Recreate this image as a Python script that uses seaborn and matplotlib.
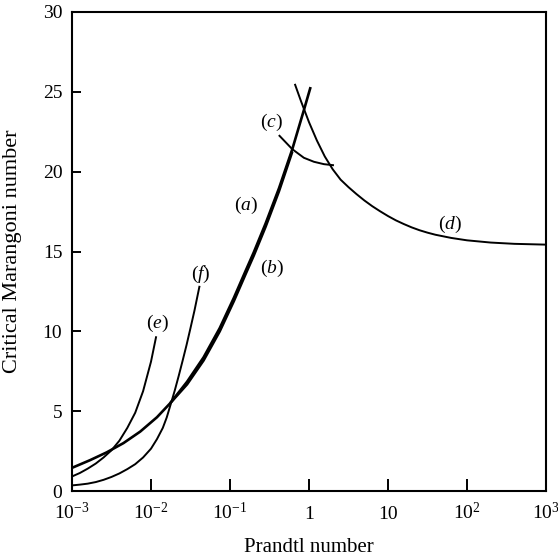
import numpy as np
import pandas as pd
import matplotlib
matplotlib.use("Agg")
import matplotlib.pyplot as plt
import seaborn as sns

# ---- data ----
a_pr = [0.001, 0.00169, 0.00275, 0.00448, 0.0073, 0.0119, 0.0175, 0.0286, 0.0463,
        0.0741, 0.112, 0.158, 0.20, 0.282, 0.417, 0.614, 0.861, 1.047]
a_ma = [1.45, 1.93, 2.42, 3.00, 3.72, 4.62, 5.50, 6.84, 8.37,
        10.2, 12.1, 13.8, 14.95, 16.75, 18.96, 21.4, 23.85, 25.3]

b_pr = [0.0175, 0.0286, 0.0463, 0.0741, 0.112, 0.158, 0.20, 0.282, 0.417, 0.614]
b_ma = [5.50, 6.68, 8.18, 10.0, 11.9, 13.6, 14.75, 16.55, 18.78, 21.25]

c_pr = [0.415, 0.614, 0.861, 1.153, 1.545, 2.07]
c_ma = [22.29, 21.41, 20.87, 20.62, 20.47, 20.40]

d_pr = [0.661, 0.794, 1.0, 1.259, 1.585, 1.995, 2.512, 3.162, 3.981, 5.012, 6.31,
        7.943, 10.0, 12.59, 15.85, 19.95, 25.12, 31.62, 39.81, 63.1, 100, 199.5,
        398, 1000]
d_ma = [25.5, 24.4, 23.1, 21.95, 20.95, 20.15, 19.5, 19.03, 18.6, 18.2, 17.84,
        17.52, 17.22, 16.95, 16.72, 16.51, 16.33, 16.18, 16.05, 15.85, 15.70, 15.56,
        15.48, 15.43]

e_pr = [0.001, 0.00126, 0.00158, 0.002, 0.00251, 0.00316, 0.00398, 0.00501,
        0.00631, 0.00794, 0.01, 0.01164]
e_ma = [0.91, 1.13, 1.40, 1.72, 2.10, 2.55, 3.15, 3.95,
        4.90, 6.25, 8.10, 9.69]

f_pr = [0.001, 0.00126, 0.00158, 0.002, 0.00251, 0.00316, 0.00398, 0.00501, 0.00631,
        0.00794, 0.01, 0.0119, 0.0141, 0.0158, 0.0178, 0.02, 0.0224, 0.0251, 0.0282,
        0.0316, 0.0355, 0.0412]
f_ma = [0.35, 0.40, 0.46, 0.56, 0.70, 0.88, 1.10, 1.37, 1.68,
        2.10, 2.65, 3.25, 3.95, 4.60, 5.45, 6.30, 7.20, 8.15, 9.15,
        10.2, 11.3, 12.85]

labels = ["(a)", "(b)", "(c)", "(d)", "(e)", "(f)"]
label_pr = [0.16, 0.342, 0.335, 60.8, 0.0119, 0.043]
label_ma = [17.9, 13.96, 23.1, 16.67, 10.49, 13.58]

xticks = [1e-3, 1e-2, 1e-1, 1, 10, 1e2, 1e3]
xticklabels = [r"$10^{-3}$", r"$10^{-2}$", r"$10^{-1}$", "1", "10", r"$10^{2}$", r"$10^{3}$"]
yticks = [0, 5, 10, 15, 20, 25, 30]

# ---- style ----
sns.set_theme(style="ticks")
plt.rcParams["font.family"] = ["Liberation Serif", "DejaVu Serif"]
plt.rcParams["mathtext.fontset"] = "custom"
plt.rcParams["mathtext.rm"] = "Liberation Serif"
plt.rcParams["mathtext.it"] = "Liberation Serif:italic"
plt.rcParams["mathtext.default"] = "rm"

W, H = 558, 557
fig = plt.figure(figsize=(W / 100, H / 100), dpi=100)
L, R, T, B = 72, 546, 12, 491
ax = fig.add_axes([L / W, 1 - B / H, (R - L) / W, (B - T) / H])

curves = [
    (a_pr, a_ma, 1.9),
    (b_pr, b_ma, 1.9),
    (c_pr, c_ma, 1.4),
    (d_pr, d_ma, 1.4),
    (e_pr, e_ma, 1.4),
    (f_pr, f_ma, 1.4),
]
for xs, ys, lw in curves:
    df = pd.DataFrame({"Pr": xs, "Ma": ys})
    sns.lineplot(data=df, x="Pr", y="Ma", ax=ax, color="black", linewidth=lw,
                 estimator=None, sort=False, solid_capstyle="butt",
                 solid_joinstyle="round")

for lab, px, py in zip(labels, label_pr, label_ma):
    letter = lab[1]
    ax.text(px, py, "(" + r"$\mathit{" + letter + "}$" + ")", fontsize=14,
            ha="center", va="center", color="black")

ax.set_xscale("log")
ax.set_xlim(1e-3, 1e3)
ax.set_ylim(0, 30)
ax.set_xticks(xticks)
ax.set_xticklabels(xticklabels)
ax.minorticks_off()
ax.set_yticks(yticks)
ax.set_yticklabels([str(v) for v in yticks])

ax.tick_params(axis="x", direction="in", length=8.5, width=1.4, pad=20,
               labelsize=14, colors="black", top=False)
ax.tick_params(axis="y", direction="in", length=6.5, width=1.4, pad=7,
               labelsize=14, colors="black", right=False)
for lbl in ax.get_xticklabels():
    lbl.set_va("baseline")

for s in ax.spines.values():
    s.set_visible(True)
    s.set_linewidth(1.5)
    s.set_color("black")

ax.set_xlabel("Prandtl number", fontsize=15, color="black", va="center")
ax.set_ylabel("Critical Marangoni number", fontsize=16, color="black", va="center")
ax.xaxis.set_label_coords(0.5, (B - 547) / (B - T))
ax.yaxis.set_label_coords((13 - L) / (R - L), 0.5)

fig.savefig("out.png", dpi=100)
